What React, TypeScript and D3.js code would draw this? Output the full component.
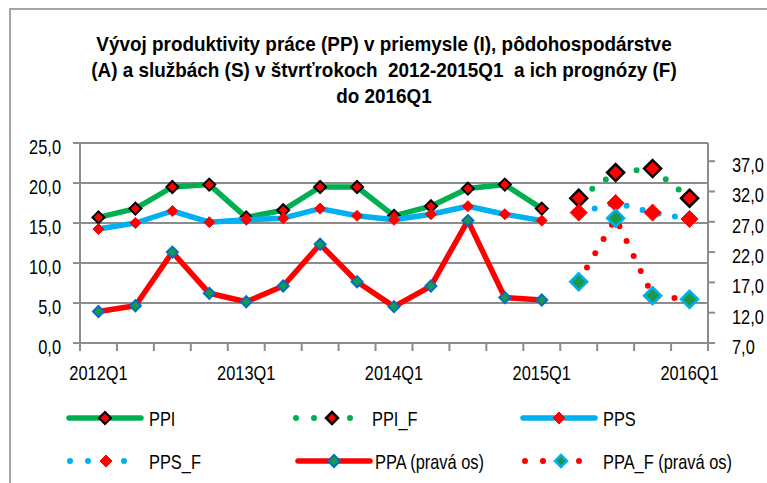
import React from "react";
import { scaleBand, scaleLinear, line } from "d3";

const quarters = [
  "2012Q1", "2012Q2", "2012Q3", "2012Q4",
  "2013Q1", "2013Q2", "2013Q3", "2013Q4",
  "2014Q1", "2014Q2", "2014Q3", "2014Q4",
  "2015Q1", "2015Q2", "2015Q3", "2015Q4",
  "2016Q1",
];
const xLabels = ["2012Q1", "2013Q1", "2014Q1", "2015Q1", "2016Q1"];

// lavá os
const ppi = [15.7, 16.8, 19.5, 19.8, 15.7, 16.6, 19.5, 19.5, 15.9, 17.1, 19.3, 19.8, 16.8, null, null, null, null];
const ppiF = [null, null, null, null, null, null, null, null, null, null, null, null, null, 18.1, 21.3, 21.8, 18.1];
const pps = [14.25, 15.0, 16.5, 15.1, 15.4, 15.6, 16.8, 15.9, 15.4, 16.1, 17.1, 16.1, 15.3, null, null, null, null];
const ppsF = [null, null, null, null, null, null, null, null, null, null, null, null, null, 16.3, 17.5, 16.3, 15.5];
// pravá os
const ppa = [12.2, 13.15, 22.0, 15.2, 13.8, 16.4, 23.3, 17.1, 13.0, 16.4, 27.2, 14.5, 14.1, null, null, null, null];
const ppaF = [null, null, null, null, null, null, null, null, null, null, null, null, null, 17.1, 27.6, 14.8, 14.2];

const leftTicks = [0, 5, 10, 15, 20, 25];
const rightTicks = [7, 12, 17, 22, 27, 32, 37];

const GREEN = "#00b050";
const BLUE = "#00b0f0";
const RED = "#ff0000";
const GRID = "#8c8c8c";
const FONT = "'Liberation Sans', Arial, sans-serif";

const fmt = (v: number) => v.toFixed(1).replace(".", ",");

function diamond(h: number) {
  return `M0,${-h}L${h},0L0,${h}L${-h},0Z`;
}

// uzky text (Arial Narrow nie je k dispozicii)
function T({ x, y, anchor = "start", size = 20, bold = false, sx = 0.82, children }: any) {
  return (
    <text
      transform={`translate(${x},${y}) scale(${sx},1)`}
      textAnchor={anchor}
      fontSize={size}
      fontWeight={bold ? "bold" : "normal"}
      fill="#000"
      style={{ whiteSpace: "pre" }}
    >
      {children}
    </text>
  );
}

export default function App() {
  const W = 767, H = 483;
  const left = 80, right = 708, top = 143, bottom = 343;

  const x = scaleBand<string>().domain(quarters).range([left, right]).padding(0);
  const cx = (q: string) => (x(q) as number) + x.bandwidth() / 2;
  const yL = scaleLinear().domain([0, 25]).range([bottom, top]);
  const yR = scaleLinear().domain([7, 40]).range([bottom, top]);

  const mk = (vals: (number | null)[], y: (v: number) => number) =>
    line<number | null>()
      .defined((d) => d != null)
      .x((_, i) => cx(quarters[i]))
      .y((d) => y(d as number))(vals) || "";

  const pts = (vals: (number | null)[], y: (v: number) => number) =>
    vals.map((v, i) => (v == null ? null : { x: cx(quarters[i]), y: y(v) })).filter(Boolean) as { x: number; y: number }[];

  const dotted = { strokeDasharray: "0 16.5", strokeLinecap: "round" as const, strokeWidth: 6, fill: "none" };

  const series = [
    { vals: ppi, y: yL, stroke: GREEN, dash: false, mFill: RED, mStroke: "#000", h: 6, sw: 2 },
    { vals: ppiF, y: yL, stroke: GREEN, dash: true, mFill: RED, mStroke: "#000", h: 8.5, sw: 2.5 },
    { vals: pps, y: yL, stroke: BLUE, dash: false, mFill: RED, mStroke: RED, h: 5.5, sw: 1 },
    { vals: ppsF, y: yL, stroke: BLUE, dash: true, mFill: RED, mStroke: RED, h: 8.5, sw: 1 },
    { vals: ppa, y: yR, stroke: RED, dash: false, mFill: "#1a9a48", mStroke: "#0070c0", h: 5.5, sw: 2 },
    { vals: ppaF, y: yR, stroke: RED, dash: true, mFill: "#1a9a48", mStroke: BLUE, h: 8.5, sw: 2.5 },
  ];

  const legend = [
    { label: "PPI", x: 69, tx: 149, y: 418, s: series[0] },
    { label: "PPI_F", x: 296, tx: 372, y: 418, s: series[1] },
    { label: "PPS", x: 523, tx: 603, y: 418, s: series[2] },
    { label: "PPS_F", x: 70, tx: 149, y: 461, s: series[3] },
    { label: "PPA (pravá os)", x: 298, tx: 375, y: 461, s: series[4] },
    { label: "PPA_F (pravá os)", x: 525, tx: 603, y: 461, s: series[5] },
  ];

  return (
    <svg width={W} height={H} style={{ position: "absolute", left: 0, top: 0, background: "#fff" }} fontFamily={FONT}>
      <rect x={10} y={9} width={900} height={600} fill="#fff" stroke="#a6a6a6" strokeWidth={2} />

      <T x={384} y={51} anchor="middle" size={21} sx={0.9} bold>Vývoj produktivity práce (PP) v priemysle (I), pôdohospodárstve</T>
      <T x={384} y={77} anchor="middle" size={21} sx={0.9} bold>(A) a službách (S) v štvrťrokoch  2012-2015Q1  a ich prognózy (F)</T>
      <T x={384} y={103} anchor="middle" size={21} sx={0.9} bold>do 2016Q1</T>

      {/* mriežka a osi */}
      <g stroke={GRID} strokeWidth={2}>
        {leftTicks.map((t) => (
          <line key={t} x1={left - 7} x2={right} y1={yL(t)} y2={yL(t)} />
        ))}
        <line x1={left} x2={left} y1={top} y2={bottom + 8} />
        <line x1={right} x2={right} y1={top} y2={bottom + 8} />
        {quarters.map((q) => (
          <line key={q} x1={x(q)} x2={x(q)} y1={bottom} y2={bottom + 8} />
        ))}
        {rightTicks.map((t) => (
          <line key={t} x1={right} x2={right + 7} y1={yR(t)} y2={yR(t)} />
        ))}
      </g>

      {leftTicks.map((t) => (
        <T key={t} x={61} y={yL(t) + 11} anchor="end">{fmt(t)}</T>
      ))}
      {rightTicks.map((t) => (
        <T key={t} x={732} y={yR(t) + 11}>{fmt(t)}</T>
      ))}
      {xLabels.map((q) => (
        <T key={q} x={cx(q)} y={380} anchor="middle">{q}</T>
      ))}

      {series.map((s, i) => (
        <g key={i}>
          {s.dash ? (
            <path d={mk(s.vals, s.y)} stroke={s.stroke} {...dotted} />
          ) : (
            <path d={mk(s.vals, s.y)} stroke={s.stroke} strokeWidth={5.5} fill="none" strokeLinejoin="round" />
          )}
          {pts(s.vals, s.y).map((p, j) => (
            <path key={j} d={diamond(s.h)} transform={`translate(${p.x},${p.y})`} fill={s.mFill} stroke={s.mStroke} strokeWidth={s.sw} />
          ))}
        </g>
      ))}

      {/* legenda */}
      {legend.map((l) => (
        <g key={l.label}>
          {l.s.dash ? (
            <line x1={l.x} x2={l.x + 72} y1={l.y} y2={l.y} stroke={l.s.stroke} strokeDasharray="0 18" strokeLinecap="round" strokeWidth={6} />
          ) : (
            <line x1={l.x} x2={l.x + 72} y1={l.y} y2={l.y} stroke={l.s.stroke} strokeWidth={5.5} strokeLinecap="round" />
          )}
          <path d={diamond(6)} transform={`translate(${l.x + 36},${l.y})`} fill={l.s.mFill} stroke={l.s.mStroke} strokeWidth={l.s.sw} />
          <T x={l.tx} y={l.y + 8}>{l.label}</T>
        </g>
      ))}
    </svg>
  );
}
